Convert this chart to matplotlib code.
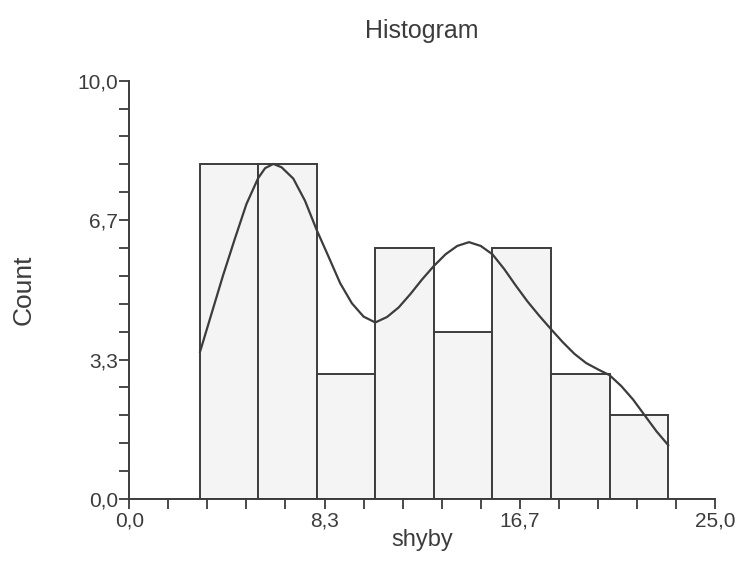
import numpy as np
import matplotlib
matplotlib.use('Agg')
import matplotlib.pyplot as plt
from matplotlib.ticker import FixedLocator, MultipleLocator

plt.rcParams['font.family'] = ['Liberation Sans', 'DejaVu Sans']

# --- data ---
bin_edges = [3.0, 5.5, 8.0, 10.5, 13.0, 15.5, 18.0, 20.5, 23.0]
counts = [8, 8, 3, 6, 4, 6, 3, 2]

# fitted curve, traced point by point
curve_x = [3.02, 3.5, 4.0, 4.5, 5.0, 5.5, 5.8, 6.15, 6.5, 7.0, 7.5, 8.0,
           8.5, 9.0, 9.5, 10.0, 10.5, 11.0, 11.5, 12.0, 12.5, 13.0, 13.5,
           14.0, 14.5, 15.0, 15.5, 16.0, 16.5, 17.0, 17.5, 18.0, 18.5,
           19.0, 19.5, 20.0, 20.5, 21.0, 21.5, 22.0, 22.5, 23.0]
curve_y = [3.52, 4.41, 5.34, 6.21, 7.05, 7.67, 7.91, 8.01, 7.93, 7.66, 7.13,
           6.43, 5.80, 5.16, 4.68, 4.36, 4.22, 4.35, 4.58, 4.90, 5.25, 5.57,
           5.85, 6.05, 6.14, 6.05, 5.85, 5.50, 5.10, 4.72, 4.38, 4.06, 3.75,
           3.47, 3.25, 3.10, 2.96, 2.70, 2.38, 2.00, 1.62, 1.29]

x_ticks = [0.0, 25 / 3, 50 / 3, 25.0]
x_tick_labels = ['0,0', '8,3', '16,7', '25,0']
y_ticks = [0.0, 10 / 3, 20 / 3, 10.0]
y_tick_labels = ['0,0', '3,3', '6,7', '10,0']

dark = '#3c3c3c'

fig = plt.figure(figsize=(7.4, 5.71), dpi=100)
ax = fig.add_axes([0.1747, 0.1261, 0.7915, 0.7326])

widths = np.diff(bin_edges)
ax.bar(bin_edges[:-1], counts, width=widths, align='edge',
       color='#f4f4f4', edgecolor=dark, linewidth=1.4, zorder=2)
ax.plot(curve_x, curve_y, color=dark, linewidth=1.6, zorder=3,
        solid_joinstyle='round')

ax.set_xlim(0, 25)
ax.set_ylim(0, 10)

for s in ['top', 'right']:
    ax.spines[s].set_visible(False)
for s in ['left', 'bottom']:
    ax.spines[s].set_color(dark)
    ax.spines[s].set_linewidth(1.4)

ax.xaxis.set_major_locator(FixedLocator(x_ticks))
ax.set_xticklabels(x_tick_labels)
ax.yaxis.set_major_locator(FixedLocator(y_ticks))
ax.set_yticklabels(y_tick_labels)
ax.xaxis.set_minor_locator(MultipleLocator(25 / 15))
ax.yaxis.set_minor_locator(MultipleLocator(10 / 15))

ax.tick_params(which='both', direction='out', length=7, width=1.3,
               color=dark, labelcolor=dark, labelsize=15)
ax.tick_params(axis='y', pad=1)
ax.tick_params(axis='x', pad=2)

ax.set_title('Histogram', fontsize=18, color=dark, pad=31)
ax.set_xlabel('shyby', fontsize=17, color=dark, labelpad=-1)
ax.set_ylabel('Count', fontsize=19, color=dark, labelpad=30)

fig.savefig('out.png', dpi=100)
